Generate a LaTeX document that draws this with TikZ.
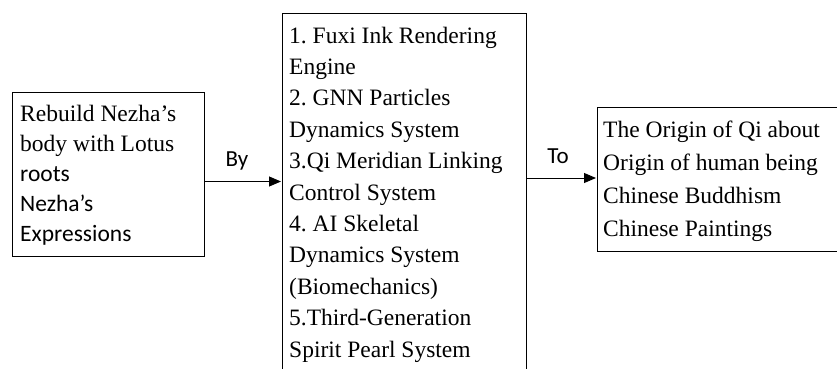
\documentclass[tikz,border=0pt]{standalone}
\usepackage{fontspec}
\setmainfont{Liberation Serif}
\newfontfamily\calibri{Carlito}
\usetikzlibrary{arrows.meta}
\frenchspacing
\newcommand{\linesat}[2]{\parbox[t]{320pt}{\fontsize{23.5}{#1}\selectfont\raggedright #2}}
\begin{document}
\begin{tikzpicture}[x=1pt,y=-1pt,
  box/.style={draw, line width=1.4pt, inner sep=0pt},
  boxtext/.style={anchor=base west, inner sep=0pt},
  link/.style={line width=0.9pt, -{Triangle[length=12pt,width=10pt]}, shorten >=1pt},
  linklabel/.style={font=\calibri\fontsize{23}{26}\selectfont, inner sep=0pt}]
\useasboundingbox (0,0) rectangle (837,368);
\clip (0,0) rectangle (837,368);

% boxes
\node[box, minimum width=192pt, minimum height=164pt, anchor=north west] (src) at (12,92) {};
\node[box, minimum width=244pt, minimum height=370pt, anchor=north west] (tech) at (282,13) {};
\node[box, minimum width=260pt, minimum height=144pt, anchor=north west] (goal) at (597,107) {};

% box texts
\node[boxtext] (srctext) at (20,121) {\linesat{30.2}{Rebuild Nezha’s\\body with Lotus\\{\calibri roots}\\{\calibri Nezha’s}\\{\calibri Expressions}}};
\node[boxtext] (techtext) at (289,43) {\linesat{31.4}{1. Fuxi Ink Rendering\\Engine\\2. GNN Particles\\Dynamics System\\3.Qi Meridian Linking\\Control System\\4. AI Skeletal\\Dynamics System\\(Biomechanics)\\5.Third-Generation\\Spirit Pearl System}};
\node[boxtext] (goaltext) at (603,137) {\linesat{33}{The Origin of Qi about\\Origin of human being\\Chinese Buddhism\\Chinese Paintings}};

% connectors
\coordinate (a1) at (204,181.5);
\coordinate (a2) at (282,181.5);
\coordinate (b1) at (526,178);
\coordinate (b2) at (597,178);
\draw[link] (a1) -- (a2);
\draw[link] (b1) -- (b2);
\node[linklabel] (by) at (237,161) {By};
\node[linklabel] (to) at (558,156) {To};
\end{tikzpicture}
\end{document}
